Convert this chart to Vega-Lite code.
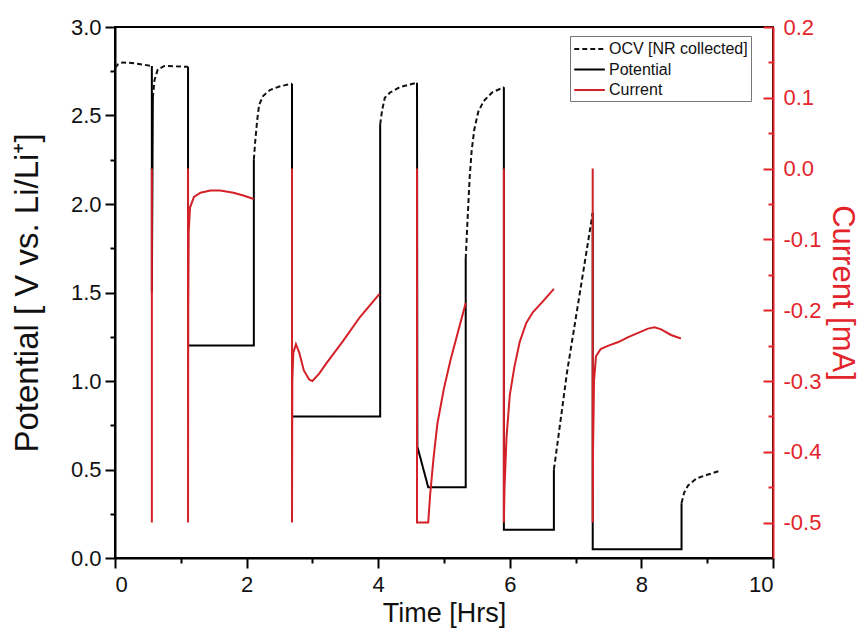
{
  "$schema": "https://vega.github.io/schema/vega-lite/v6.json",
  "autosize": "none",
  "width": 658,
  "height": 531,
  "padding": {"left": 115, "top": 27, "right": 87, "bottom": 81},
  "background": "white",
  "config": {
    "view": {"stroke": "#000", "strokeWidth": 2},
    "axis": {"grid": false, "labelFont": "Liberation Sans", "titleFont": "Liberation Sans", "titleFontWeight": "normal", "domainWidth": 2, "tickWidth": 2}
  },
  "data": {"values": [
    {"s":"OCV [NR collected]","g":"o1","t":0.0,"v":2.77},
    {"s":"OCV [NR collected]","g":"o1","t":0.05,"v":2.79},
    {"s":"OCV [NR collected]","g":"o1","t":0.12,"v":2.80},
    {"s":"OCV [NR collected]","g":"o1","t":0.3,"v":2.795},
    {"s":"OCV [NR collected]","g":"o1","t":0.56,"v":2.78},
    {"s":"OCV [NR collected]","g":"o2","t":0.575,"v":2.6},
    {"s":"OCV [NR collected]","g":"o2","t":0.6,"v":2.7},
    {"s":"OCV [NR collected]","g":"o2","t":0.65,"v":2.76},
    {"s":"OCV [NR collected]","g":"o2","t":0.75,"v":2.78},
    {"s":"OCV [NR collected]","g":"o2","t":1.11,"v":2.775},
    {"s":"OCV [NR collected]","g":"o3","t":2.11,"v":2.25},
    {"s":"OCV [NR collected]","g":"o3","t":2.13,"v":2.35},
    {"s":"OCV [NR collected]","g":"o3","t":2.16,"v":2.47},
    {"s":"OCV [NR collected]","g":"o3","t":2.19,"v":2.56},
    {"s":"OCV [NR collected]","g":"o3","t":2.25,"v":2.61},
    {"s":"OCV [NR collected]","g":"o3","t":2.36,"v":2.645},
    {"s":"OCV [NR collected]","g":"o3","t":2.51,"v":2.665},
    {"s":"OCV [NR collected]","g":"o3","t":2.69,"v":2.68},
    {"s":"OCV [NR collected]","g":"o4","t":4.03,"v":2.45},
    {"s":"OCV [NR collected]","g":"o4","t":4.06,"v":2.53},
    {"s":"OCV [NR collected]","g":"o4","t":4.1,"v":2.6},
    {"s":"OCV [NR collected]","g":"o4","t":4.18,"v":2.63},
    {"s":"OCV [NR collected]","g":"o4","t":4.33,"v":2.66},
    {"s":"OCV [NR collected]","g":"o4","t":4.59,"v":2.685},
    {"s":"OCV [NR collected]","g":"o5","t":5.33,"v":1.69},
    {"s":"OCV [NR collected]","g":"o5","t":5.35,"v":1.85},
    {"s":"OCV [NR collected]","g":"o5","t":5.37,"v":2.0},
    {"s":"OCV [NR collected]","g":"o5","t":5.39,"v":2.15},
    {"s":"OCV [NR collected]","g":"o5","t":5.42,"v":2.3},
    {"s":"OCV [NR collected]","g":"o5","t":5.46,"v":2.42},
    {"s":"OCV [NR collected]","g":"o5","t":5.52,"v":2.52},
    {"s":"OCV [NR collected]","g":"o5","t":5.6,"v":2.58},
    {"s":"OCV [NR collected]","g":"o5","t":5.73,"v":2.63},
    {"s":"OCV [NR collected]","g":"o5","t":5.91,"v":2.66},
    {"s":"OCV [NR collected]","g":"o6","t":6.67,"v":0.5},
    {"s":"OCV [NR collected]","g":"o6","t":6.7,"v":0.58},
    {"s":"OCV [NR collected]","g":"o6","t":6.87,"v":1.05},
    {"s":"OCV [NR collected]","g":"o6","t":7.07,"v":1.51},
    {"s":"OCV [NR collected]","g":"o6","t":7.26,"v":1.95},
    {"s":"OCV [NR collected]","g":"o7","t":8.61,"v":0.31},
    {"s":"OCV [NR collected]","g":"o7","t":8.65,"v":0.37},
    {"s":"OCV [NR collected]","g":"o7","t":8.71,"v":0.41},
    {"s":"OCV [NR collected]","g":"o7","t":8.84,"v":0.45},
    {"s":"OCV [NR collected]","g":"o7","t":9.0,"v":0.47},
    {"s":"OCV [NR collected]","g":"o7","t":9.17,"v":0.49},
    {"s":"Potential","g":"p1","t":0.56,"v":2.78},
    {"s":"Potential","g":"p1","t":0.56,"v":1.5},
    {"s":"Potential","g":"p1","t":0.575,"v":2.6},
    {"s":"Potential","g":"p2","t":1.11,"v":2.775},
    {"s":"Potential","g":"p2","t":1.11,"v":1.2},
    {"s":"Potential","g":"p2","t":2.11,"v":1.2},
    {"s":"Potential","g":"p2","t":2.11,"v":2.25},
    {"s":"Potential","g":"p3","t":2.69,"v":2.68},
    {"s":"Potential","g":"p3","t":2.69,"v":0.8},
    {"s":"Potential","g":"p3","t":4.03,"v":0.8},
    {"s":"Potential","g":"p3","t":4.03,"v":2.45},
    {"s":"Potential","g":"p4","t":4.59,"v":2.685},
    {"s":"Potential","g":"p4","t":4.595,"v":0.63},
    {"s":"Potential","g":"p4","t":4.76,"v":0.4},
    {"s":"Potential","g":"p4","t":5.33,"v":0.4},
    {"s":"Potential","g":"p4","t":5.33,"v":1.69},
    {"s":"Potential","g":"p5","t":5.91,"v":2.66},
    {"s":"Potential","g":"p5","t":5.91,"v":0.16},
    {"s":"Potential","g":"p5","t":6.67,"v":0.16},
    {"s":"Potential","g":"p5","t":6.67,"v":0.5},
    {"s":"Potential","g":"p6","t":7.26,"v":1.95},
    {"s":"Potential","g":"p6","t":7.26,"v":0.05},
    {"s":"Potential","g":"p6","t":8.61,"v":0.05},
    {"s":"Potential","g":"p6","t":8.61,"v":0.31},
    {"s":"Current","g":"c1","t":0.56,"i":0.0},
    {"s":"Current","g":"c1","t":0.56,"i":-0.5},
    {"s":"Current","g":"c2","t":1.11,"i":0.0},
    {"s":"Current","g":"c2","t":1.11,"i":-0.5},
    {"s":"Current","g":"c2","t":1.113,"i":-0.2},
    {"s":"Current","g":"c2","t":1.12,"i":-0.09},
    {"s":"Current","g":"c2","t":1.14,"i":-0.055},
    {"s":"Current","g":"c2","t":1.2,"i":-0.04},
    {"s":"Current","g":"c2","t":1.3,"i":-0.034},
    {"s":"Current","g":"c2","t":1.45,"i":-0.031},
    {"s":"Current","g":"c2","t":1.6,"i":-0.031},
    {"s":"Current","g":"c2","t":1.8,"i":-0.034},
    {"s":"Current","g":"c2","t":1.95,"i":-0.038},
    {"s":"Current","g":"c2","t":2.11,"i":-0.043},
    {"s":"Current","g":"c3","t":2.69,"i":0.0},
    {"s":"Current","g":"c3","t":2.69,"i":-0.5},
    {"s":"Current","g":"c3","t":2.695,"i":-0.3},
    {"s":"Current","g":"c3","t":2.71,"i":-0.26},
    {"s":"Current","g":"c3","t":2.75,"i":-0.248},
    {"s":"Current","g":"c3","t":2.8,"i":-0.26},
    {"s":"Current","g":"c3","t":2.87,"i":-0.285},
    {"s":"Current","g":"c3","t":2.95,"i":-0.298},
    {"s":"Current","g":"c3","t":3.0,"i":-0.3},
    {"s":"Current","g":"c3","t":3.1,"i":-0.29},
    {"s":"Current","g":"c3","t":3.22,"i":-0.274},
    {"s":"Current","g":"c3","t":3.47,"i":-0.243},
    {"s":"Current","g":"c3","t":3.72,"i":-0.21},
    {"s":"Current","g":"c3","t":4.02,"i":-0.177},
    {"s":"Current","g":"c4","t":4.59,"i":0.0},
    {"s":"Current","g":"c4","t":4.59,"i":-0.5},
    {"s":"Current","g":"c4","t":4.76,"i":-0.5},
    {"s":"Current","g":"c4","t":4.79,"i":-0.46},
    {"s":"Current","g":"c4","t":4.84,"i":-0.41},
    {"s":"Current","g":"c4","t":4.9,"i":-0.36},
    {"s":"Current","g":"c4","t":5.0,"i":-0.31},
    {"s":"Current","g":"c4","t":5.1,"i":-0.27},
    {"s":"Current","g":"c4","t":5.2,"i":-0.235},
    {"s":"Current","g":"c4","t":5.33,"i":-0.19},
    {"s":"Current","g":"c5","t":5.91,"i":0.0},
    {"s":"Current","g":"c5","t":5.91,"i":-0.5},
    {"s":"Current","g":"c5","t":5.92,"i":-0.45},
    {"s":"Current","g":"c5","t":5.95,"i":-0.38},
    {"s":"Current","g":"c5","t":6.0,"i":-0.32},
    {"s":"Current","g":"c5","t":6.07,"i":-0.28},
    {"s":"Current","g":"c5","t":6.15,"i":-0.245},
    {"s":"Current","g":"c5","t":6.25,"i":-0.218},
    {"s":"Current","g":"c5","t":6.35,"i":-0.203},
    {"s":"Current","g":"c5","t":6.5,"i":-0.188},
    {"s":"Current","g":"c5","t":6.67,"i":-0.17},
    {"s":"Current","g":"c6","t":7.26,"i":0.0},
    {"s":"Current","g":"c6","t":7.26,"i":-0.5},
    {"s":"Current","g":"c6","t":7.265,"i":-0.4},
    {"s":"Current","g":"c6","t":7.28,"i":-0.3},
    {"s":"Current","g":"c6","t":7.31,"i":-0.265},
    {"s":"Current","g":"c6","t":7.38,"i":-0.255},
    {"s":"Current","g":"c6","t":7.5,"i":-0.25},
    {"s":"Current","g":"c6","t":7.65,"i":-0.245},
    {"s":"Current","g":"c6","t":7.8,"i":-0.238},
    {"s":"Current","g":"c6","t":7.95,"i":-0.232},
    {"s":"Current","g":"c6","t":8.1,"i":-0.226},
    {"s":"Current","g":"c6","t":8.2,"i":-0.224},
    {"s":"Current","g":"c6","t":8.3,"i":-0.227},
    {"s":"Current","g":"c6","t":8.45,"i":-0.235},
    {"s":"Current","g":"c6","t":8.6,"i":-0.24}
  ]},
  "encoding": {
    "x": {
      "field": "t", "type": "quantitative",
      "scale": {"domain": [0, 10], "nice": false, "zero": false},
      "axis": {
        "title": "Time [Hrs]", "titleFontSize": 27, "titleColor": "#111", "titlePadding": 5,
        "values": [0,1,2,3,4,5,6,7,8,9,10],
        "labelExpr": "datum.value % 2 === 0 ? datum.label : ''",
        "labelFontSize": 22, "labelColor": "#111", "labelPadding": 6,
        "tickSize": {"condition": {"test": "datum.value % 2 === 0", "value": 10}, "value": 5},
        "domainColor": "#000", "tickColor": "#000"
      }
    },
    "color": {
      "field": "s", "type": "nominal",
      "scale": {"domain": ["OCV [NR collected]", "Potential", "Current"], "range": ["#111111", "#000000", "#d42027"]},
      "legend": {
        "title": null, "orient": "none", "legendX": 455, "legendY": 9,
        "symbolType": "M-1,0H2.5", "symbolSize": 306, "symbolStrokeWidth": 2,
        "labelFont": "Liberation Sans", "labelFontSize": 16, "labelColor": "#111",
        "strokeColor": "#777", "fillColor": "white", "padding": 3, "rowPadding": 2.5, "labelOffset": 16
      }
    },
    "detail": {"field": "g"},
    "order": {"value": null}
  },
  "layer": [
    {
      "transform": [{"filter": "datum.s !== 'Current'"}],
      "mark": {"type": "line", "strokeWidth": 2},
      "encoding": {
        "y": {
          "field": "v", "type": "quantitative",
          "scale": {"domain": [0, 3], "nice": false, "zero": false},
          "axis": {
            "title": "Potential [ V vs. Li/Li⁺]", "titleFontSize": 33, "titleColor": "#111", "titlePadding": 26,
            "values": [0,0.25,0.5,0.75,1,1.25,1.5,1.75,2,2.25,2.5,2.75,3],
            "labelExpr": "round(datum.value*100) % 50 === 0 ? format(datum.value, '.1f') : ''",
            "labelFontSize": 22, "labelColor": "#111", "labelPadding": 4,
            "tickSize": {"condition": {"test": "round(datum.value*100) % 50 === 0", "value": 10}, "value": 5},
            "domainColor": "#000", "tickColor": "#000"
          }
        },
        "strokeDash": {
          "field": "s", "type": "nominal",
          "scale": {"domain": ["OCV [NR collected]", "Potential", "Current"], "range": [[5, 3], [1, 0], [1, 0]]},
          "legend": {"title": null}
        }
      }
    },
    {
      "transform": [{"filter": "datum.s === 'Current'"}],
      "mark": {"type": "line", "strokeWidth": 2},
      "encoding": {
        "y": {
          "field": "i", "type": "quantitative",
          "scale": {"domain": [-0.55, 0.2], "nice": false, "zero": false},
          "axis": {
            "orient": "right",
            "title": "Current [mA]", "titleFontSize": 31, "titleColor": "#e3242b", "titlePadding": 5,
            "values": [-0.5,-0.45,-0.4,-0.35,-0.3,-0.25,-0.2,-0.15,-0.1,-0.05,0,0.05,0.1,0.15,0.2],
            "labelExpr": "abs(round(datum.value*100)) % 10 === 0 ? (datum.value < -0.001 ? '-' : '') + format(abs(datum.value), '.1f') : ''",
            "labelFontSize": 22, "labelColor": "#e3242b", "labelPadding": 20,
            "tickSize": -10,
            "tickDash": {"condition": {"test": "abs(round(datum.value*100)) % 10 === 0", "value": [1, 0]}, "value": [5, 20]},
            "domainColor": "#e3242b", "tickColor": "#e3242b"
          }
        }
      }
    }
  ],
  "resolve": {"scale": {"y": "independent"}}
}
